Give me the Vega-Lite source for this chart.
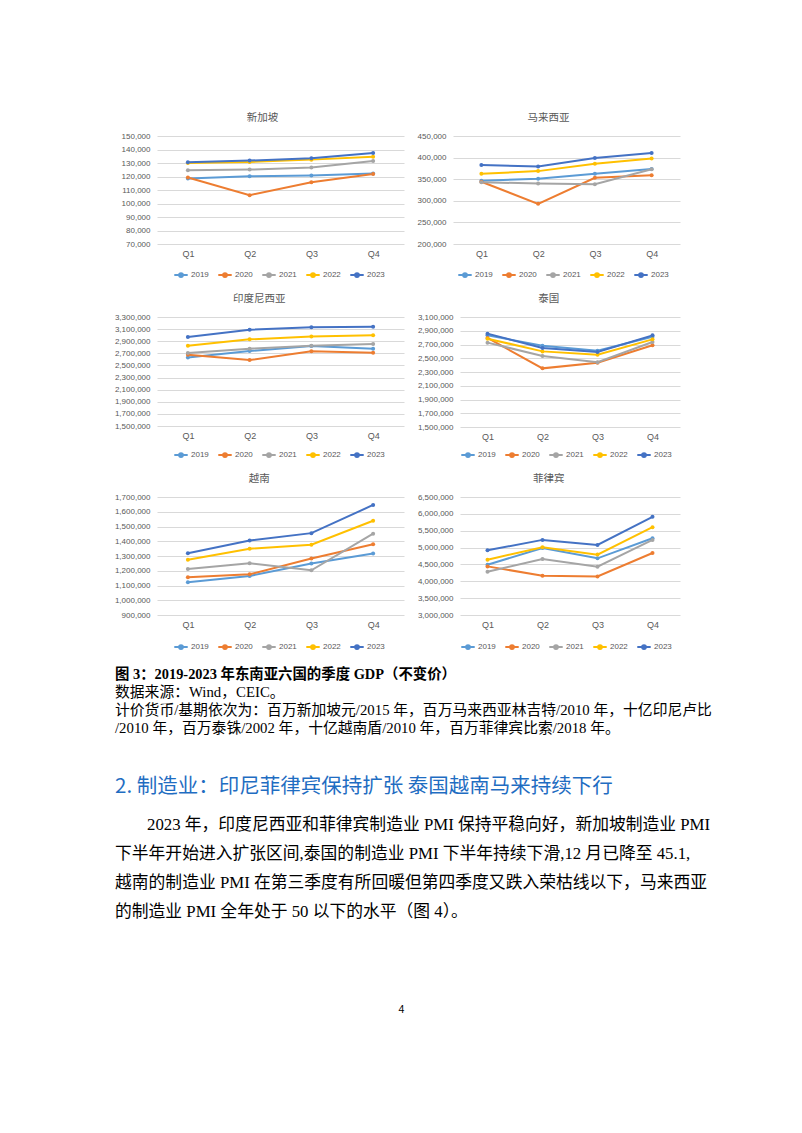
{
"$schema": "https://vega.github.io/schema/vega-lite/v6.json",
"background": "white",
"padding": {"top": 112, "left": 114, "right": 0, "bottom": 0},
"datasets": {"g": [
{"c":"新加坡","y":"2019","q":"Q1","v":118500},{"c":"新加坡","y":"2019","q":"Q2","v":120200},{"c":"新加坡","y":"2019","q":"Q3","v":120700},{"c":"新加坡","y":"2019","q":"Q4","v":122200},
{"c":"新加坡","y":"2020","q":"Q1","v":119200},{"c":"新加坡","y":"2020","q":"Q2","v":106200},{"c":"新加坡","y":"2020","q":"Q3","v":115800},{"c":"新加坡","y":"2020","q":"Q4","v":121900},
{"c":"新加坡","y":"2021","q":"Q1","v":124600},{"c":"新加坡","y":"2021","q":"Q2","v":125100},{"c":"新加坡","y":"2021","q":"Q3","v":126600},{"c":"新加坡","y":"2021","q":"Q4","v":131500},
{"c":"新加坡","y":"2022","q":"Q1","v":130000},{"c":"新加坡","y":"2022","q":"Q2","v":130800},{"c":"新加坡","y":"2022","q":"Q3","v":132500},{"c":"新加坡","y":"2022","q":"Q4","v":134700},
{"c":"新加坡","y":"2023","q":"Q1","v":130500},{"c":"新加坡","y":"2023","q":"Q2","v":131800},{"c":"新加坡","y":"2023","q":"Q3","v":133500},{"c":"新加坡","y":"2023","q":"Q4","v":137400},
{"c":"马来西亚","y":"2019","q":"Q1","v":346300},{"c":"马来西亚","y":"2019","q":"Q2","v":350900},{"c":"马来西亚","y":"2019","q":"Q3","v":362500},{"c":"马来西亚","y":"2019","q":"Q4","v":373400},
{"c":"马来西亚","y":"2020","q":"Q1","v":344000},{"c":"马来西亚","y":"2020","q":"Q2","v":292900},{"c":"马来西亚","y":"2020","q":"Q3","v":353300},{"c":"马来西亚","y":"2020","q":"Q4","v":359400},
{"c":"马来西亚","y":"2021","q":"Q1","v":343000},{"c":"马来西亚","y":"2021","q":"Q2","v":340000},{"c":"马来西亚","y":"2021","q":"Q3","v":338500},{"c":"马来西亚","y":"2021","q":"Q4","v":373000},
{"c":"马来西亚","y":"2022","q":"Q1","v":362500},{"c":"马来西亚","y":"2022","q":"Q2","v":368700},{"c":"马来西亚","y":"2022","q":"Q3","v":385800},{"c":"马来西亚","y":"2022","q":"Q4","v":398100},
{"c":"马来西亚","y":"2023","q":"Q1","v":382700},{"c":"马来西亚","y":"2023","q":"Q2","v":379600},{"c":"马来西亚","y":"2023","q":"Q3","v":398900},{"c":"马来西亚","y":"2023","q":"Q4","v":410500},
{"c":"印度尼西亚","y":"2019","q":"Q1","v":2633000},{"c":"印度尼西亚","y":"2019","q":"Q2","v":2738000},{"c":"印度尼西亚","y":"2019","q":"Q3","v":2821000},{"c":"印度尼西亚","y":"2019","q":"Q4","v":2777000},
{"c":"印度尼西亚","y":"2020","q":"Q1","v":2677000},{"c":"印度尼西亚","y":"2020","q":"Q2","v":2589000},{"c":"印度尼西亚","y":"2020","q":"Q3","v":2733000},{"c":"印度尼西亚","y":"2020","q":"Q4","v":2710000},
{"c":"印度尼西亚","y":"2021","q":"Q1","v":2705000},{"c":"印度尼西亚","y":"2021","q":"Q2","v":2777000},{"c":"印度尼西亚","y":"2021","q":"Q3","v":2826000},{"c":"印度尼西亚","y":"2021","q":"Q4","v":2854000},
{"c":"印度尼西亚","y":"2022","q":"Q1","v":2826000},{"c":"印度尼西亚","y":"2022","q":"Q2","v":2931000},{"c":"印度尼西亚","y":"2022","q":"Q3","v":2980000},{"c":"印度尼西亚","y":"2022","q":"Q4","v":2997000},
{"c":"印度尼西亚","y":"2023","q":"Q1","v":2969000},{"c":"印度尼西亚","y":"2023","q":"Q2","v":3091000},{"c":"印度尼西亚","y":"2023","q":"Q3","v":3129000},{"c":"印度尼西亚","y":"2023","q":"Q4","v":3140000},
{"c":"泰国","y":"2019","q":"Q1","v":2833000},{"c":"泰国","y":"2019","q":"Q2","v":2683000},{"c":"泰国","y":"2019","q":"Q3","v":2610000},{"c":"泰国","y":"2019","q":"Q4","v":2814000},
{"c":"泰国","y":"2020","q":"Q1","v":2795000},{"c":"泰国","y":"2020","q":"Q2","v":2353000},{"c":"泰国","y":"2020","q":"Q3","v":2436000},{"c":"泰国","y":"2020","q":"Q4","v":2688000},
{"c":"泰国","y":"2021","q":"Q1","v":2727000},{"c":"泰国","y":"2021","q":"Q2","v":2533000},{"c":"泰国","y":"2021","q":"Q3","v":2441000},{"c":"泰国","y":"2021","q":"Q4","v":2736000},
{"c":"泰国","y":"2022","q":"Q1","v":2785000},{"c":"泰国","y":"2022","q":"Q2","v":2600000},{"c":"泰国","y":"2022","q":"Q3","v":2552000},{"c":"泰国","y":"2022","q":"Q4","v":2775000},
{"c":"泰国","y":"2023","q":"Q1","v":2858000},{"c":"泰国","y":"2023","q":"Q2","v":2649000},{"c":"泰国","y":"2023","q":"Q3","v":2591000},{"c":"泰国","y":"2023","q":"Q4","v":2833000},
{"c":"越南","y":"2019","q":"Q1","v":1122000},{"c":"越南","y":"2019","q":"Q2","v":1165000},{"c":"越南","y":"2019","q":"Q3","v":1249000},{"c":"越南","y":"2019","q":"Q4","v":1317000},
{"c":"越南","y":"2020","q":"Q1","v":1156000},{"c":"越南","y":"2020","q":"Q2","v":1176000},{"c":"越南","y":"2020","q":"Q3","v":1283000},{"c":"越南","y":"2020","q":"Q4","v":1380000},
{"c":"越南","y":"2021","q":"Q1","v":1212000},{"c":"越南","y":"2021","q":"Q2","v":1251000},{"c":"越南","y":"2021","q":"Q3","v":1203000},{"c":"越南","y":"2021","q":"Q4","v":1451000},
{"c":"越南","y":"2022","q":"Q1","v":1274000},{"c":"越南","y":"2022","q":"Q2","v":1349000},{"c":"越南","y":"2022","q":"Q3","v":1376000},{"c":"越南","y":"2022","q":"Q4","v":1539000},
{"c":"越南","y":"2023","q":"Q1","v":1319000},{"c":"越南","y":"2023","q":"Q2","v":1405000},{"c":"越南","y":"2023","q":"Q3","v":1455000},{"c":"越南","y":"2023","q":"Q4","v":1646000},
{"c":"菲律宾","y":"2019","q":"Q1","v":4492000},{"c":"菲律宾","y":"2019","q":"Q2","v":4989000},{"c":"菲律宾","y":"2019","q":"Q3","v":4681000},{"c":"菲律宾","y":"2019","q":"Q4","v":5277000},
{"c":"菲律宾","y":"2020","q":"Q1","v":4442000},{"c":"菲律宾","y":"2020","q":"Q2","v":4164000},{"c":"菲律宾","y":"2020","q":"Q3","v":4144000},{"c":"菲律宾","y":"2020","q":"Q4","v":4840000},
{"c":"菲律宾","y":"2021","q":"Q1","v":4283000},{"c":"菲律宾","y":"2021","q":"Q2","v":4661000},{"c":"菲律宾","y":"2021","q":"Q3","v":4432000},{"c":"菲律宾","y":"2021","q":"Q4","v":5228000},
{"c":"菲律宾","y":"2022","q":"Q1","v":4641000},{"c":"菲律宾","y":"2022","q":"Q2","v":5009000},{"c":"菲律宾","y":"2022","q":"Q3","v":4791000},{"c":"菲律宾","y":"2022","q":"Q4","v":5605000},
{"c":"菲律宾","y":"2023","q":"Q1","v":4920000},{"c":"菲律宾","y":"2023","q":"Q2","v":5228000},{"c":"菲律宾","y":"2023","q":"Q3","v":5078000},{"c":"菲律宾","y":"2023","q":"Q4","v":5913000}
]},
"columns": 1,
"align": "none",
"spacing": 37,
"resolve": {"scale": {"color": "independent", "x": "independent", "y": "independent"}, "legend": {"color": "independent"}},
"concat": [
{
"columns": 1,
"align": "none",
"spacing": 12,
"resolve": {"scale": {"color": "independent", "x": "independent", "y": "independent"}, "legend": {"color": "independent"}},
"concat": [
{"spacing": 13,
 "resolve": {"scale": {"color": "independent", "x": "independent", "y": "independent"}, "legend": {"color": "independent"}},
 "hconcat": [
  {"title": "新加坡", "width": 247, "height": 108, "data": {"name": "g"},
   "transform": [{"filter": "datum.c === '新加坡'"}],
   "encoding": {
    "x": {"field": "q", "type": "ordinal", "title": null, "scale": {"type": "point", "padding": 0.5}},
    "y": {"field": "v", "type": "quantitative", "title": null, "scale": {"domain": [70000, 150000], "nice": false, "zero": false}, "axis": {"values": [70000,80000,90000,100000,110000,120000,130000,140000,150000], "format": ",d"}},
    "color": {"field": "y", "type": "nominal", "title": null, "scale": {"domain": ["2019","2020","2021","2022","2023"], "range": ["#5B9BD5","#ED7D31","#A5A5A5","#FFC000","#4472C4"]}, "legend": {"legendX": 16, "legendY": 131}}
   },
   "layer": [{"mark": "line"}, {"mark": "point"}]},
  {"title": "马来西亚", "width": 227, "height": 108, "data": {"name": "g"},
   "transform": [{"filter": "datum.c === '马来西亚'"}],
   "encoding": {
    "x": {"field": "q", "type": "ordinal", "title": null, "scale": {"type": "point", "padding": 0.5}},
    "y": {"field": "v", "type": "quantitative", "title": null, "scale": {"domain": [200000, 450000], "nice": false, "zero": false}, "axis": {"values": [200000,250000,300000,350000,400000,450000], "format": ",d"}},
    "color": {"field": "y", "type": "nominal", "title": null, "scale": {"domain": ["2019","2020","2021","2022","2023"], "range": ["#5B9BD5","#ED7D31","#A5A5A5","#FFC000","#4472C4"]}, "legend": {"legendX": 4, "legendY": 131}}
   },
   "layer": [{"mark": "line"}, {"mark": "point"}]}
 ]},
{"spacing": 13,
 "resolve": {"scale": {"color": "independent", "x": "independent", "y": "independent"}, "legend": {"color": "independent"}},
 "hconcat": [
  {"title": "印度尼西亚", "width": 247, "height": 109, "data": {"name": "g"},
   "transform": [{"filter": "datum.c === '印度尼西亚'"}],
   "encoding": {
    "x": {"field": "q", "type": "ordinal", "title": null, "scale": {"type": "point", "padding": 0.5}},
    "y": {"field": "v", "type": "quantitative", "title": null, "scale": {"domain": [1500000, 3300000], "nice": false, "zero": false}, "axis": {"values": [1500000,1700000,1900000,2100000,2300000,2500000,2700000,2900000,3100000,3300000], "format": ",d"}},
    "color": {"field": "y", "type": "nominal", "title": null, "scale": {"domain": ["2019","2020","2021","2022","2023"], "range": ["#5B9BD5","#ED7D31","#A5A5A5","#FFC000","#4472C4"]}, "legend": {"legendX": 16, "legendY": 130}}
   },
   "layer": [{"mark": "line"}, {"mark": "point"}]},
  {"title": "泰国", "width": 220, "height": 110, "data": {"name": "g"},
   "transform": [{"filter": "datum.c === '泰国'"}],
   "encoding": {
    "x": {"field": "q", "type": "ordinal", "title": null, "scale": {"type": "point", "padding": 0.5}},
    "y": {"field": "v", "type": "quantitative", "title": null, "scale": {"domain": [1500000, 3100000], "nice": false, "zero": false}, "axis": {"values": [1500000,1700000,1900000,2100000,2300000,2500000,2700000,2900000,3100000], "format": ",d"}},
    "color": {"field": "y", "type": "nominal", "title": null, "scale": {"domain": ["2019","2020","2021","2022","2023"], "range": ["#5B9BD5","#ED7D31","#A5A5A5","#FFC000","#4472C4"]}, "legend": {"legendX": 0, "legendY": 130}}
   },
   "layer": [{"mark": "line"}, {"mark": "point"}]}
 ]},
{"spacing": 13,
 "resolve": {"scale": {"color": "independent", "x": "independent", "y": "independent"}, "legend": {"color": "independent"}},
 "hconcat": [
  {"title": "越南", "width": 247, "height": 118, "data": {"name": "g"},
   "transform": [{"filter": "datum.c === '越南'"}],
   "encoding": {
    "x": {"field": "q", "type": "ordinal", "title": null, "scale": {"type": "point", "padding": 0.5}},
    "y": {"field": "v", "type": "quantitative", "title": null, "scale": {"domain": [900000, 1700000], "nice": false, "zero": false}, "axis": {"values": [900000,1000000,1100000,1200000,1300000,1400000,1500000,1600000,1700000], "format": ",d"}},
    "color": {"field": "y", "type": "nominal", "title": null, "scale": {"domain": ["2019","2020","2021","2022","2023"], "range": ["#5B9BD5","#ED7D31","#A5A5A5","#FFC000","#4472C4"]}, "legend": {"legendX": 16, "legendY": 142}}
   },
   "layer": [{"mark": "line"}, {"mark": "point"}]},
  {"title": "菲律宾", "width": 220, "height": 118, "data": {"name": "g"},
   "transform": [{"filter": "datum.c === '菲律宾'"}],
   "encoding": {
    "x": {"field": "q", "type": "ordinal", "title": null, "scale": {"type": "point", "padding": 0.5}},
    "y": {"field": "v", "type": "quantitative", "title": null, "scale": {"domain": [3000000, 6500000], "nice": false, "zero": false}, "axis": {"values": [3000000,3500000,4000000,4500000,5000000,5500000,6000000,6500000], "format": ",d"}},
    "color": {"field": "y", "type": "nominal", "title": null, "scale": {"domain": ["2019","2020","2021","2022","2023"], "range": ["#5B9BD5","#ED7D31","#A5A5A5","#FFC000","#4472C4"]}, "legend": {"legendX": 0, "legendY": 142}}
   },
   "layer": [{"mark": "line"}, {"mark": "point"}]}
 ]},
{"width": 600, "height": 74,
 "data": {"values": [
  {"i": 1, "t": "图 3：2019-2023 年东南亚六国的季度 GDP（不变价）"},
  {"i": 2, "t": "数据来源：Wind，CEIC。"},
  {"i": 3, "t": "计价货币/基期依次为：百万新加坡元/2015 年，百万马来西亚林吉特/2010 年，十亿印尼卢比"},
  {"i": 4, "t": "/2010 年，百万泰铢/2002 年，十亿越南盾/2010 年，百万菲律宾比索/2018 年。"}
 ]},
 "encoding": {
  "y": {"field": "i", "type": "ordinal", "axis": null, "scale": {"type": "point", "padding": 0.55}},
  "text": {"field": "t"}
 },
 "layer": [
  {"transform": [{"filter": "datum.i == 1"}], "mark": {"type": "text", "align": "left", "baseline": "middle", "x": 0, "dx": -42, "fontSize": 14.4, "fontWeight": "bold", "font": "Liberation Serif, Noto Sans CJK SC", "color": "#000000"}},
  {"transform": [{"filter": "datum.i > 1"}], "mark": {"type": "text", "align": "left", "baseline": "middle", "x": 0, "dx": -42, "fontSize": 14.8, "font": "Liberation Serif, Noto Sans CJK SC", "color": "#000000"}}
 ]}
]},
{
"columns": 1,
"align": "none",
"spacing": 77,
"concat": [
{"width": 600, "height": 115,
 "title": {"text": "2. 制造业：印尼菲律宾保持扩张  泰国越南马来持续下行", "anchor": "start", "frame": "group", "dx": -42, "fontSize": 20.5, "color": "#1F6DC2", "font": "Noto Sans CJK SC", "fontWeight": "normal", "baseline": "middle", "offset": 4},
 "data": {"values": [
  {"i": 1, "t": "2023 年，印度尼西亚和菲律宾制造业 PMI 保持平稳向好，新加坡制造业 PMI"},
  {"i": 2, "t": "下半年开始进入扩张区间,泰国的制造业 PMI 下半年持续下滑,12 月已降至 45.1,"},
  {"i": 3, "t": "越南的制造业 PMI 在第三季度有所回暖但第四季度又跌入荣枯线以下，马来西亚"},
  {"i": 4, "t": "的制造业 PMI 全年处于 50 以下的水平（图 4）。"}
 ]},
 "encoding": {
  "y": {"field": "i", "type": "ordinal", "axis": null, "scale": {"type": "point", "padding": 0.5}},
  "text": {"field": "t"}
 },
 "layer": [
  {"transform": [{"filter": "datum.i == 1"}], "mark": {"type": "text", "align": "left", "baseline": "middle", "x": 0, "dx": -10, "fontSize": 16.8, "font": "Liberation Serif, Noto Sans CJK SC", "color": "#000000"}},
  {"transform": [{"filter": "datum.i > 1"}], "mark": {"type": "text", "align": "left", "baseline": "middle", "x": 0, "dx": -42, "fontSize": 16.8, "font": "Liberation Serif, Noto Sans CJK SC", "color": "#000000"}}
 ]},
{"width": 489, "height": 14,
 "data": {"values": [{"t": "4"}]},
 "mark": {"type": "text", "align": "center", "baseline": "middle", "fontSize": 10.5, "font": "Liberation Sans", "color": "#000000"},
 "encoding": {
  "x": {"field": "t", "type": "nominal", "axis": null, "scale": {"type": "point", "padding": 0.5}},
  "text": {"field": "t"}
 }}
]}
],
"config": {
 "view": {"stroke": null},
 "axis": {"domain": false, "ticks": false, "labelColor": "#595959", "labelFont": "Liberation Sans", "gridColor": "#d9d9d9", "gridWidth": 1},
 "axisY": {"labelFontSize": 8, "labelPadding": 7, "grid": true},
 "axisX": {"labelFontSize": 9, "labelAngle": 0, "grid": false, "labelPadding": 5},
 "title": {"fontSize": 10.5, "color": "#595959", "font": "Noto Sans CJK SC", "fontWeight": "normal", "anchor": "middle", "frame": "bounds", "baseline": "middle", "offset": 9},
 "legend": {"orient": "none", "direction": "horizontal", "symbolType": "M-1,0L1,0M-0.28,0A0.28,0.28,0,1,1,0.28,0A0.28,0.28,0,1,1,-0.28,0", "symbolSize": 180, "symbolStrokeWidth": 2, "labelFontSize": 8, "labelColor": "#595959", "labelFont": "Liberation Sans", "columnPadding": 5, "labelOffset": 2},
 "line": {"strokeWidth": 2},
 "point": {"filled": true, "size": 16, "opacity": 1}
}
}
